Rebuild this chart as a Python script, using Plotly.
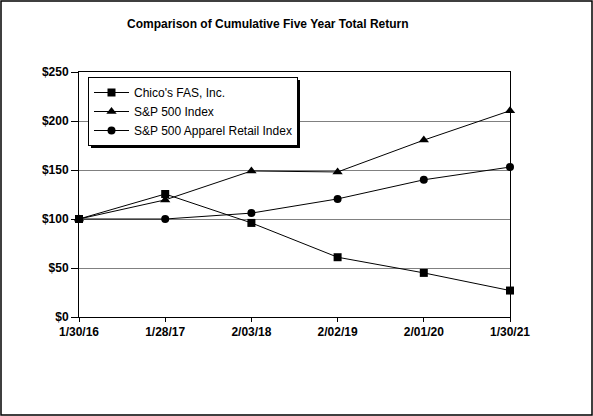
import plotly.graph_objects as go

categories = ["1/30/16", "1/28/17", "2/03/18", "2/02/19", "2/01/20", "1/30/21"]
chicos = [100, 125.5, 96, 61, 45, 27]
sp500 = [100, 119.5, 149, 148, 180.5, 210.5]
apparel = [100, 100, 106, 120.5, 140, 153]
y_ticks = [0, 50, 100, 150, 200, 250]
y_labels = ["$0", "$50", "$100", "$150", "$200", "$250"]

fig = go.Figure()
series = [
    ("Chico's FAS, Inc.", chicos, "square", 8),
    ("S&P 500 Index", sp500, "triangle-up", 9),
    ("S&P 500 Apparel Retail Index", apparel, "circle", 8),
]
for name, vals, sym, sz in series:
    fig.add_trace(go.Scatter(
        x=categories, y=vals, name=name, mode="lines+markers",
        line=dict(color="black", width=1),
        marker=dict(symbol=sym, size=sz, color="black"),
        cliponaxis=False,
    ))

W, H = 593, 416
ml, mr, mt, mb = 79, 83, 72, 99
pw, ph = W - ml - mr, H - mt - mb

def px_x(x):
    return (x - ml) / pw

def px_y(y):
    return (H - mb - y) / ph

shapes = [
    dict(type="rect", xref="paper", yref="paper", x0=px_x(1), x1=px_x(592),
         y0=px_y(415), y1=px_y(1), line=dict(color="black", width=1.5), layer="below"),
    dict(type="rect", xref="paper", yref="paper", x0=px_x(91), x1=px_x(300),
         y0=px_y(148), y1=px_y(80), fillcolor="black", line=dict(width=0), layer="above"),
]

fig.update_layout(
    width=W, height=H,
    margin=dict(l=ml, r=mr, t=mt, b=mb),
    paper_bgcolor="white", plot_bgcolor="white",
    font=dict(family="Arial, Liberation Sans", color="black", size=12),
    showlegend=True,
    legend=dict(
        x=px_x(88), y=px_y(77), xanchor="left", yanchor="top",
        bgcolor="white", bordercolor="black", borderwidth=1,
        font=dict(size=12), itemwidth=35, tracegroupgap=0,
    ),
    shapes=shapes,
    annotations=[dict(
        text="<b>Comparison of Cumulative Five Year Total Return</b>",
        xref="paper", yref="paper", x=px_x(268), y=px_y(24),
        xanchor="center", yanchor="middle", showarrow=False,
        font=dict(size=12),
    )],
)
fig.update_xaxes(
    type="category", range=[0, 5], showgrid=False,
    showline=True, linecolor="black", linewidth=1, mirror=True,
    ticks="outside", ticklen=4, tickcolor="black",
    tickfont=dict(size=12),
    tickvals=categories, ticktext=["<b>%s</b>" % c for c in categories],
)
fig.update_yaxes(
    range=[0, 250], tickvals=y_ticks, ticktext=["<b>%s</b>" % t for t in y_labels],
    showgrid=True, gridcolor="#808080", gridwidth=1,
    showline=True, linecolor="black", linewidth=1, mirror=True,
    ticks="outside", ticklen=7, tickcolor="black",
    tickfont=dict(size=12), zeroline=False,
)
fig.write_html("out.html", config={"displayModeBar": False},
               post_script="document.body.style.margin='0';")
